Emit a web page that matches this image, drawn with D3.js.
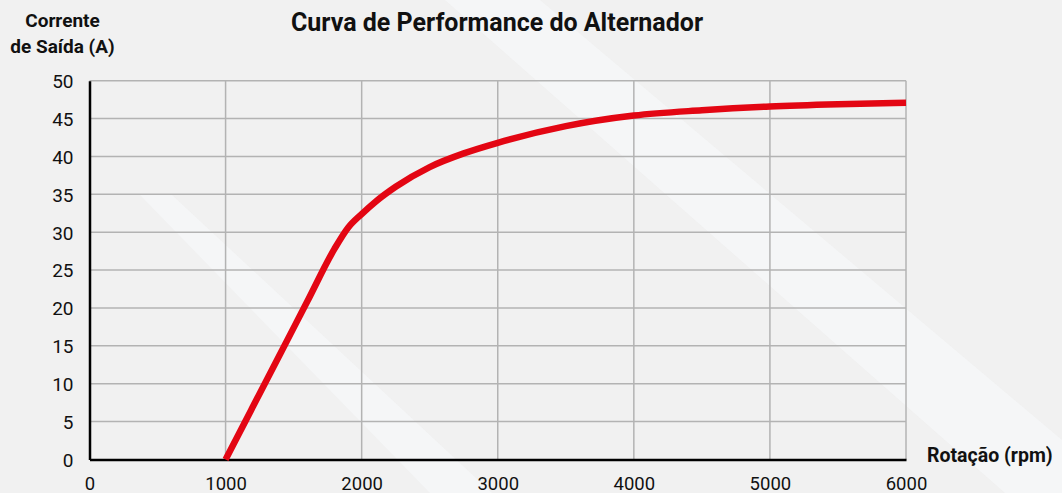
<!DOCTYPE html>
<html><head><meta charset="utf-8">
<script src="https://cdn.jsdelivr.net/npm/d3@7"></script>
<style>
html,body{margin:0;padding:0;background:#f1f1f1;}
svg{display:block;}
text{font-family:Roboto,"DejaVu Sans",sans-serif;fill:#111;}
</style></head>
<body>
<svg id="c" width="1062" height="493"></svg>
<script>
const rpm     = [1000, 1200, 1400, 1600, 1800, 1900, 2000, 2100, 2250, 2500, 2750, 3000, 3500, 4000, 4500, 5000, 5500, 6000];
const current = [0,    6.95, 13.9, 20.85, 27.8, 30.6, 32.4, 34.0, 36.0, 38.6, 40.4, 41.8, 44.0, 45.4, 46.1, 46.6, 46.9, 47.1];
const xTicks = [0, 1000, 2000, 3000, 4000, 5000, 6000];
const yTicks = [0, 5, 10, 15, 20, 25, 30, 35, 40, 45, 50];
const title = "Curva de Performance do Alternador";
const yLabel = ["Corrente", "de Saída (A)"];
const xLabel = "Rotação (rpm)";

const svg = d3.select("#c");
const W = 1062, H = 493;
svg.append("rect").attr("width", W).attr("height", H).attr("fill", "#f1f1f1");

// decorative light stripes
const stripes = [
  [[140,195],[172,195],[492,493],[430,493]],
  [[445,0],[540,0],[1062,440],[1062,493],[1005,493]]
];
svg.selectAll("polygon.stripe").data(stripes).join("polygon")
  .attr("class","stripe")
  .attr("points", d => d.map(p => p.join(",")).join(" "))
  .attr("fill", "#fafcfd").attr("opacity", 0.5);

const x = d3.scaleLinear().domain([0, 6000]).range([89.5, 906]);
const y = d3.scaleLinear().domain([0, 50]).range([459.5, 80.7]);

// grid
svg.append("g").selectAll("line").data(yTicks.filter(d => d > 0)).join("line")
  .attr("x1", x(0)).attr("x2", x(6000))
  .attr("y1", d => y(d)).attr("y2", d => y(d))
  .attr("stroke", "#b3b3b3").attr("stroke-width", 1.5);
svg.append("g").selectAll("line").data(xTicks.filter(d => d > 0)).join("line")
  .attr("x1", d => x(d)).attr("x2", d => x(d))
  .attr("y1", y(0)).attr("y2", y(50))
  .attr("stroke", "#b3b3b3").attr("stroke-width", 1.5);

// axes (D3 axes, styled)
const yAxis = svg.append("g").attr("transform", `translate(${x(0)},0)`)
  .call(d3.axisLeft(y).tickValues(yTicks).tickSize(0).tickPadding(16));
yAxis.select(".domain").attr("stroke", "#000").attr("stroke-width", 2.5);
yAxis.selectAll("text").style("font-size", "19px").attr("fill", "#111")
  .attr("dy", "0.36em").attr("x", -16);

const xAxis = svg.append("g").attr("transform", `translate(0,${y(0)})`)
  .call(d3.axisBottom(x).tickValues(xTicks).tickSize(0).tickFormat(d3.format("d")));
xAxis.select(".domain").attr("stroke", "#000").attr("stroke-width", 2.5);
xAxis.selectAll("text").style("font-size", "18.5px").attr("fill", "#111")
  .attr("dy", null).attr("y", 30);

// curve
const line = d3.line().x((d, i) => x(rpm[i])).y(d => y(d)).curve(d3.curveMonotoneX);
svg.append("path").attr("d", line(current))
  .attr("fill", "none").attr("stroke", "#e30613").attr("stroke-width", 6.5)
  .attr("stroke-linecap", "butt").attr("stroke-linejoin", "round");

// texts
svg.append("text").text(title).attr("x", 497).attr("y", 30.5)
  .attr("text-anchor", "middle").style("font-size", "25px").style("font-weight", 700);
svg.append("text").text(yLabel[0]).attr("x", 62.5).attr("y", 27)
  .attr("text-anchor", "middle").style("font-size", "19px").style("font-weight", 700);
svg.append("text").text(yLabel[1]).attr("x", 62.5).attr("y", 53)
  .attr("text-anchor", "middle").style("font-size", "19px").style("font-weight", 700);
svg.append("text").text(xLabel).attr("x", 927).attr("y", 461.5)
  .attr("text-anchor", "start").style("font-size", "19.5px").style("font-weight", 700);
</script>
</body></html>
